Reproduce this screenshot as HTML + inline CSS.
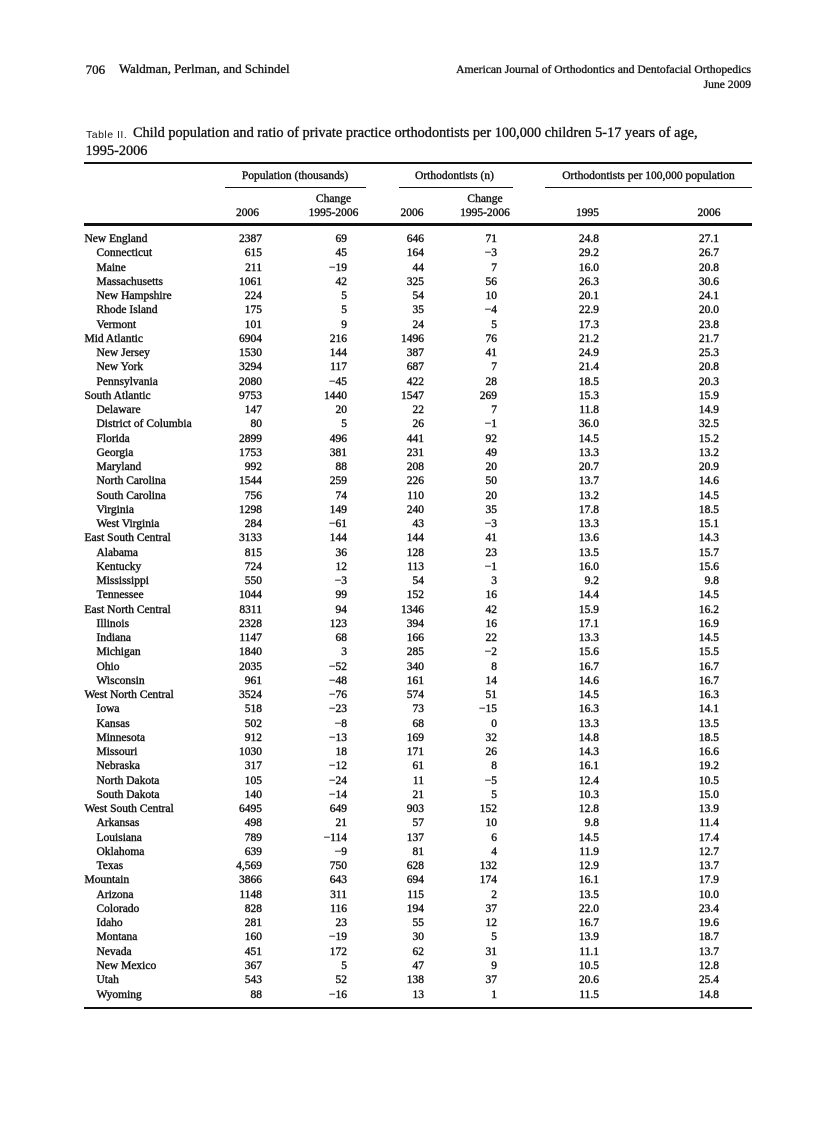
<!DOCTYPE html>
<html>
<head>
<meta charset="utf-8">
<style>
html,body{margin:0;padding:0;background:#fff;}
body{width:838px;height:1122px;position:relative;overflow:hidden;font-family:"Liberation Serif",serif;color:#151515;}
.t{position:absolute;white-space:nowrap;-webkit-text-stroke:0.35px #151515;}
.r{position:absolute;left:0;width:838px;height:14px;font-size:11.5px;line-height:14px;white-space:nowrap;-webkit-text-stroke:0.4px #151515;}
.r span{position:absolute;top:0;}
.g{left:84.5px;}
.s{left:96.5px;}
.a{right:576px;}
.b{right:491px;}
.c{right:414px;}
.d{right:341px;}
.e{right:239px;}
.f{right:119px;}
.rule{position:absolute;background:#111;}
.h{position:absolute;font-size:11.5px;line-height:14px;text-align:center;white-space:nowrap;-webkit-text-stroke:0.4px #151515;}
</style>
</head>
<body>
<div class="t" style="left:85.6px;top:62.4px;font-size:13px;line-height:15px;">706</div>
<div class="t" style="left:119px;top:62.4px;font-size:12.8px;line-height:15px;">Waldman, Perlman, and Schindel</div>
<div class="t" style="right:87px;top:63px;font-size:11.6px;line-height:14px;text-align:right;">American Journal of Orthodontics and Dentofacial Orthopedics</div>
<div class="t" style="right:87px;top:78.4px;font-size:11.6px;line-height:14px;text-align:right;">June 2009</div>

<div class="t" style="left:86px;top:128px;font-family:'Liberation Sans',sans-serif;font-size:10.5px;letter-spacing:0.5px;line-height:14px;-webkit-text-stroke:0;">Table II.</div>
<div class="t" style="left:133px;top:126.4px;font-size:14.3px;line-height:15px;">Child population and ratio of private practice orthodontists per 100,000 children 5-17 years of age,</div>
<div class="t" style="left:85.5px;top:144.1px;font-size:14.3px;line-height:15px;">1995-2006</div>

<div class="rule" style="left:84px;top:161.5px;width:668px;height:2px;"></div>

<div class="h" style="left:225px;width:140px;top:168.5px;">Population (thousands)</div>
<div class="h" style="left:397px;width:115px;top:168.5px;">Orthodontists (n)</div>
<div class="h" style="left:545px;width:207px;top:168.5px;">Orthodontists per 100,000 population</div>

<div class="rule" style="left:225px;top:186.8px;width:141px;height:1.6px;"></div>
<div class="rule" style="left:399px;top:186.8px;width:114px;height:1.6px;"></div>
<div class="rule" style="left:545px;top:186.8px;width:207px;height:1.6px;"></div>

<div class="h" style="left:293.5px;width:80px;top:192px;">Change</div>
<div class="h" style="left:445px;width:80px;top:192px;">Change</div>

<div class="h" style="left:207.5px;width:80px;top:206px;">2006</div>
<div class="h" style="left:293.5px;width:80px;top:206px;">1995-2006</div>
<div class="h" style="left:372px;width:80px;top:206px;">2006</div>
<div class="h" style="left:445px;width:80px;top:206px;">1995-2006</div>
<div class="h" style="left:547.5px;width:80px;top:206px;">1995</div>
<div class="h" style="left:669px;width:80px;top:206px;">2006</div>

<div class="rule" style="left:84px;top:223px;width:668px;height:2.5px;"></div>

<div class="r" style="top:232px"><span class="g">New England</span><span class="a">2387</span><span class="b">69</span><span class="c">646</span><span class="d">71</span><span class="e">24.8</span><span class="f">27.1</span></div>
<div class="r" style="top:246.25px"><span class="s">Connecticut</span><span class="a">615</span><span class="b">45</span><span class="c">164</span><span class="d">&minus;3</span><span class="e">29.2</span><span class="f">26.7</span></div>
<div class="r" style="top:260.5px"><span class="s">Maine</span><span class="a">211</span><span class="b">&minus;19</span><span class="c">44</span><span class="d">7</span><span class="e">16.0</span><span class="f">20.8</span></div>
<div class="r" style="top:274.75px"><span class="s">Massachusetts</span><span class="a">1061</span><span class="b">42</span><span class="c">325</span><span class="d">56</span><span class="e">26.3</span><span class="f">30.6</span></div>
<div class="r" style="top:289px"><span class="s">New Hampshire</span><span class="a">224</span><span class="b">5</span><span class="c">54</span><span class="d">10</span><span class="e">20.1</span><span class="f">24.1</span></div>
<div class="r" style="top:303.25px"><span class="s">Rhode Island</span><span class="a">175</span><span class="b">5</span><span class="c">35</span><span class="d">&minus;4</span><span class="e">22.9</span><span class="f">20.0</span></div>
<div class="r" style="top:317.5px"><span class="s">Vermont</span><span class="a">101</span><span class="b">9</span><span class="c">24</span><span class="d">5</span><span class="e">17.3</span><span class="f">23.8</span></div>
<div class="r" style="top:331.75px"><span class="g">Mid Atlantic</span><span class="a">6904</span><span class="b">216</span><span class="c">1496</span><span class="d">76</span><span class="e">21.2</span><span class="f">21.7</span></div>
<div class="r" style="top:346px"><span class="s">New Jersey</span><span class="a">1530</span><span class="b">144</span><span class="c">387</span><span class="d">41</span><span class="e">24.9</span><span class="f">25.3</span></div>
<div class="r" style="top:360.25px"><span class="s">New York</span><span class="a">3294</span><span class="b">117</span><span class="c">687</span><span class="d">7</span><span class="e">21.4</span><span class="f">20.8</span></div>
<div class="r" style="top:374.5px"><span class="s">Pennsylvania</span><span class="a">2080</span><span class="b">&minus;45</span><span class="c">422</span><span class="d">28</span><span class="e">18.5</span><span class="f">20.3</span></div>
<div class="r" style="top:388.75px"><span class="g">South Atlantic</span><span class="a">9753</span><span class="b">1440</span><span class="c">1547</span><span class="d">269</span><span class="e">15.3</span><span class="f">15.9</span></div>
<div class="r" style="top:403px"><span class="s">Delaware</span><span class="a">147</span><span class="b">20</span><span class="c">22</span><span class="d">7</span><span class="e">11.8</span><span class="f">14.9</span></div>
<div class="r" style="top:417.25px"><span class="s">District of Columbia</span><span class="a">80</span><span class="b">5</span><span class="c">26</span><span class="d">&minus;1</span><span class="e">36.0</span><span class="f">32.5</span></div>
<div class="r" style="top:431.5px"><span class="s">Florida</span><span class="a">2899</span><span class="b">496</span><span class="c">441</span><span class="d">92</span><span class="e">14.5</span><span class="f">15.2</span></div>
<div class="r" style="top:445.75px"><span class="s">Georgia</span><span class="a">1753</span><span class="b">381</span><span class="c">231</span><span class="d">49</span><span class="e">13.3</span><span class="f">13.2</span></div>
<div class="r" style="top:460px"><span class="s">Maryland</span><span class="a">992</span><span class="b">88</span><span class="c">208</span><span class="d">20</span><span class="e">20.7</span><span class="f">20.9</span></div>
<div class="r" style="top:474.25px"><span class="s">North Carolina</span><span class="a">1544</span><span class="b">259</span><span class="c">226</span><span class="d">50</span><span class="e">13.7</span><span class="f">14.6</span></div>
<div class="r" style="top:488.5px"><span class="s">South Carolina</span><span class="a">756</span><span class="b">74</span><span class="c">110</span><span class="d">20</span><span class="e">13.2</span><span class="f">14.5</span></div>
<div class="r" style="top:502.75px"><span class="s">Virginia</span><span class="a">1298</span><span class="b">149</span><span class="c">240</span><span class="d">35</span><span class="e">17.8</span><span class="f">18.5</span></div>
<div class="r" style="top:517px"><span class="s">West Virginia</span><span class="a">284</span><span class="b">&minus;61</span><span class="c">43</span><span class="d">&minus;3</span><span class="e">13.3</span><span class="f">15.1</span></div>
<div class="r" style="top:531.25px"><span class="g">East South Central</span><span class="a">3133</span><span class="b">144</span><span class="c">144</span><span class="d">41</span><span class="e">13.6</span><span class="f">14.3</span></div>
<div class="r" style="top:545.5px"><span class="s">Alabama</span><span class="a">815</span><span class="b">36</span><span class="c">128</span><span class="d">23</span><span class="e">13.5</span><span class="f">15.7</span></div>
<div class="r" style="top:559.75px"><span class="s">Kentucky</span><span class="a">724</span><span class="b">12</span><span class="c">113</span><span class="d">&minus;1</span><span class="e">16.0</span><span class="f">15.6</span></div>
<div class="r" style="top:574px"><span class="s">Mississippi</span><span class="a">550</span><span class="b">&minus;3</span><span class="c">54</span><span class="d">3</span><span class="e">9.2</span><span class="f">9.8</span></div>
<div class="r" style="top:588.25px"><span class="s">Tennessee</span><span class="a">1044</span><span class="b">99</span><span class="c">152</span><span class="d">16</span><span class="e">14.4</span><span class="f">14.5</span></div>
<div class="r" style="top:602.5px"><span class="g">East North Central</span><span class="a">8311</span><span class="b">94</span><span class="c">1346</span><span class="d">42</span><span class="e">15.9</span><span class="f">16.2</span></div>
<div class="r" style="top:616.75px"><span class="s">Illinois</span><span class="a">2328</span><span class="b">123</span><span class="c">394</span><span class="d">16</span><span class="e">17.1</span><span class="f">16.9</span></div>
<div class="r" style="top:631px"><span class="s">Indiana</span><span class="a">1147</span><span class="b">68</span><span class="c">166</span><span class="d">22</span><span class="e">13.3</span><span class="f">14.5</span></div>
<div class="r" style="top:645.25px"><span class="s">Michigan</span><span class="a">1840</span><span class="b">3</span><span class="c">285</span><span class="d">&minus;2</span><span class="e">15.6</span><span class="f">15.5</span></div>
<div class="r" style="top:659.5px"><span class="s">Ohio</span><span class="a">2035</span><span class="b">&minus;52</span><span class="c">340</span><span class="d">8</span><span class="e">16.7</span><span class="f">16.7</span></div>
<div class="r" style="top:673.75px"><span class="s">Wisconsin</span><span class="a">961</span><span class="b">&minus;48</span><span class="c">161</span><span class="d">14</span><span class="e">14.6</span><span class="f">16.7</span></div>
<div class="r" style="top:688px"><span class="g">West North Central</span><span class="a">3524</span><span class="b">&minus;76</span><span class="c">574</span><span class="d">51</span><span class="e">14.5</span><span class="f">16.3</span></div>
<div class="r" style="top:702.25px"><span class="s">Iowa</span><span class="a">518</span><span class="b">&minus;23</span><span class="c">73</span><span class="d">&minus;15</span><span class="e">16.3</span><span class="f">14.1</span></div>
<div class="r" style="top:716.5px"><span class="s">Kansas</span><span class="a">502</span><span class="b">&minus;8</span><span class="c">68</span><span class="d">0</span><span class="e">13.3</span><span class="f">13.5</span></div>
<div class="r" style="top:730.75px"><span class="s">Minnesota</span><span class="a">912</span><span class="b">&minus;13</span><span class="c">169</span><span class="d">32</span><span class="e">14.8</span><span class="f">18.5</span></div>
<div class="r" style="top:745px"><span class="s">Missouri</span><span class="a">1030</span><span class="b">18</span><span class="c">171</span><span class="d">26</span><span class="e">14.3</span><span class="f">16.6</span></div>
<div class="r" style="top:759.25px"><span class="s">Nebraska</span><span class="a">317</span><span class="b">&minus;12</span><span class="c">61</span><span class="d">8</span><span class="e">16.1</span><span class="f">19.2</span></div>
<div class="r" style="top:773.5px"><span class="s">North Dakota</span><span class="a">105</span><span class="b">&minus;24</span><span class="c">11</span><span class="d">&minus;5</span><span class="e">12.4</span><span class="f">10.5</span></div>
<div class="r" style="top:787.75px"><span class="s">South Dakota</span><span class="a">140</span><span class="b">&minus;14</span><span class="c">21</span><span class="d">5</span><span class="e">10.3</span><span class="f">15.0</span></div>
<div class="r" style="top:802px"><span class="g">West South Central</span><span class="a">6495</span><span class="b">649</span><span class="c">903</span><span class="d">152</span><span class="e">12.8</span><span class="f">13.9</span></div>
<div class="r" style="top:816.25px"><span class="s">Arkansas</span><span class="a">498</span><span class="b">21</span><span class="c">57</span><span class="d">10</span><span class="e">9.8</span><span class="f">11.4</span></div>
<div class="r" style="top:830.5px"><span class="s">Louisiana</span><span class="a">789</span><span class="b">&minus;114</span><span class="c">137</span><span class="d">6</span><span class="e">14.5</span><span class="f">17.4</span></div>
<div class="r" style="top:844.75px"><span class="s">Oklahoma</span><span class="a">639</span><span class="b">&minus;9</span><span class="c">81</span><span class="d">4</span><span class="e">11.9</span><span class="f">12.7</span></div>
<div class="r" style="top:859px"><span class="s">Texas</span><span class="a">4,569</span><span class="b">750</span><span class="c">628</span><span class="d">132</span><span class="e">12.9</span><span class="f">13.7</span></div>
<div class="r" style="top:873.25px"><span class="g">Mountain</span><span class="a">3866</span><span class="b">643</span><span class="c">694</span><span class="d">174</span><span class="e">16.1</span><span class="f">17.9</span></div>
<div class="r" style="top:887.5px"><span class="s">Arizona</span><span class="a">1148</span><span class="b">311</span><span class="c">115</span><span class="d">2</span><span class="e">13.5</span><span class="f">10.0</span></div>
<div class="r" style="top:901.75px"><span class="s">Colorado</span><span class="a">828</span><span class="b">116</span><span class="c">194</span><span class="d">37</span><span class="e">22.0</span><span class="f">23.4</span></div>
<div class="r" style="top:916px"><span class="s">Idaho</span><span class="a">281</span><span class="b">23</span><span class="c">55</span><span class="d">12</span><span class="e">16.7</span><span class="f">19.6</span></div>
<div class="r" style="top:930.25px"><span class="s">Montana</span><span class="a">160</span><span class="b">&minus;19</span><span class="c">30</span><span class="d">5</span><span class="e">13.9</span><span class="f">18.7</span></div>
<div class="r" style="top:944.5px"><span class="s">Nevada</span><span class="a">451</span><span class="b">172</span><span class="c">62</span><span class="d">31</span><span class="e">11.1</span><span class="f">13.7</span></div>
<div class="r" style="top:958.75px"><span class="s">New Mexico</span><span class="a">367</span><span class="b">5</span><span class="c">47</span><span class="d">9</span><span class="e">10.5</span><span class="f">12.8</span></div>
<div class="r" style="top:973px"><span class="s">Utah</span><span class="a">543</span><span class="b">52</span><span class="c">138</span><span class="d">37</span><span class="e">20.6</span><span class="f">25.4</span></div>
<div class="r" style="top:987.5px"><span class="s">Wyoming</span><span class="a">88</span><span class="b">&minus;16</span><span class="c">13</span><span class="d">1</span><span class="e">11.5</span><span class="f">14.8</span></div>

<div class="rule" style="left:84px;top:1006.5px;width:668px;height:2.5px;"></div>
</body>
</html>
